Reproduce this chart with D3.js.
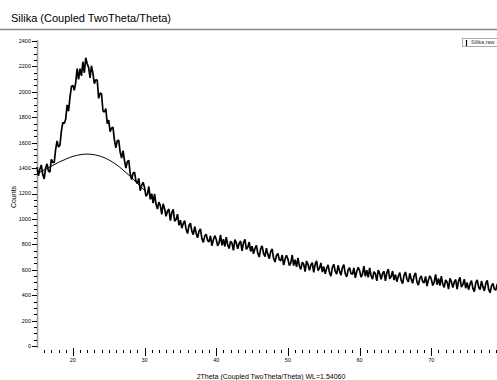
<!DOCTYPE html>
<html>
<head>
<meta charset="utf-8">
<script src="https://cdn.jsdelivr.net/npm/d3@7"></script>
<style>
  html, body { margin: 0; padding: 0; background: #fff; }
  svg { display: block; font-family: "Liberation Sans", Arial, sans-serif; }
</style>
</head>
<body>
<div id="chart"></div>
<script>
// raw scan: start angle, step, counts (one value per step)
const scanStart = 15;
const scanStep = 0.2;
const counts = [
  1408,1340,1392,1425,1349,1315,1401,1433,1376,1368,
  1468,1446,1442,1548,1614,1566,1580,1690,1760,1750,
  1784,1897,1847,1957,2042,2050,2012,2073,2182,2097,
  2183,2125,2237,2150,2268,2221,2192,2110,2204,2147,
  2064,2095,2093,1949,1990,1985,1851,1841,1868,1749,
  1778,1686,1714,1722,1620,1560,1616,1618,1526,1478,
  1538,1460,1400,1450,1460,1356,1310,1360,1368,1298,
  1278,1319,1222,1264,1288,1247,1179,1195,1255,1154,
  1198,1125,1196,1117,1078,1132,1106,1035,1119,1081,
  1021,1063,1077,986,1050,1075,983,996,1037,951,
  990,927,964,986,918,885,948,966,904,877,
  940,888,851,904,922,845,815,865,880,830,
  820,867,789,836,868,840,788,811,874,792,
  840,783,856,794,767,825,809,753,837,811,
  765,808,826,749,812,840,761,777,818,744,
  785,726,767,793,729,700,766,787,728,704,
  770,721,687,743,764,690,661,712,728,679,
  670,716,637,683,714,685,632,654,716,633,
  680,622,694,631,603,660,643,586,669,642,
  595,638,656,579,642,670,593,611,654,582,
  625,568,611,639,577,550,619,643,587,566,
  635,589,558,617,641,570,544,598,617,571,
  565,614,537,586,619,593,542,566,629,548,
  597,540,614,553,526,585,569,513,597,571,
  525,569,588,512,576,605,528,547,590,519,
  562,506,549,578,516,490,558,582,525,504,
  572,526,494,553,576,505,479,532,551,505,
  498,547,471,520,553,527,476,500,563,482,
  531,475,549,487,461,520,504,448,532,506,
  460,504,523,447,511,540,464,483,526,455,
  499,443,487,515,454,428,497,520,464,443,
  511,465,434,492,516,445,419,473,492,446,
  440,489,413,462,496,470
];

// smooth background hump under the amorphous peak
const bgTheta  = [15, 16, 17, 18, 19, 20, 21, 22, 23, 24, 25, 26, 27, 28, 29, 30];
const bgCounts = [1355, 1385, 1415, 1445, 1470, 1492, 1505, 1510, 1505, 1490, 1465, 1430, 1385, 1335, 1280, 1225];

const xTicks = [20, 30, 40, 50, 60, 70];
const yTicks = [0, 200, 400, 600, 800, 1000, 1200, 1400, 1600, 1800, 2000, 2200, 2400];

const title = 'Silika (Coupled TwoTheta/Theta)';
const xLabel = '2Theta (Coupled TwoTheta/Theta) WL=1.54060';
const yLabel = 'Counts';
const legendName = 'Silika.raw';

const width = 497, height = 380;

const svg = d3.select('#chart').append('svg')
  .attr('width', width)
  .attr('height', height);

const x = d3.scaleLinear().domain([15, 80]).range([37, 503]);
const y = d3.scaleLinear().domain([0, 2400]).range([346, 41]);

// title + separator
svg.append('text')
  .attr('x', 11).attr('y', 22)
  .attr('font-size', 11)
  .attr('fill', '#000')
  .text(title);

svg.append('line')
  .attr('x1', 0).attr('x2', width)
  .attr('y1', 29.5).attr('y2', 29.5)
  .attr('stroke', '#8a8a8a')
  .attr('stroke-width', 1.5);

// y axis: gray spine, black ticks
const yMinor = d3.range(0, 2401, 50).filter(v => v % 200 !== 0);
const yAxis = svg.append('g');
yAxis.append('line')
  .attr('x1', 37.5).attr('x2', 37.5)
  .attr('y1', y(2400) - 1).attr('y2', y(0) + 2)
  .attr('stroke', '#999').attr('stroke-width', 1.5);
yAxis.selectAll('.ymaj').data(yTicks).join('line')
  .attr('x1', 32).attr('x2', 37)
  .attr('y1', d => Math.round(y(d)) + 0.5).attr('y2', d => Math.round(y(d)) + 0.5)
  .attr('stroke', '#000');
yAxis.selectAll('.ymin').data(yMinor).join('line')
  .attr('x1', 34).attr('x2', 37)
  .attr('y1', d => Math.round(y(d)) + 0.5).attr('y2', d => Math.round(y(d)) + 0.5)
  .attr('stroke', '#000');
yAxis.selectAll('text').data(yTicks).join('text')
  .attr('x', 31).attr('y', d => y(d))
  .attr('dy', '0.35em')
  .attr('text-anchor', 'end')
  .attr('font-size', 5.5)
  .text(d => d);

svg.append('text')
  .attr('transform', 'translate(16,197) rotate(-90)')
  .attr('text-anchor', 'middle')
  .attr('font-size', 7)
  .text(yLabel);

// x axis: ticks only, no spine
const xMinor = d3.range(16, 80).filter(v => v % 10 !== 0);
const xAxis = svg.append('g');
xAxis.selectAll('.xmin').data(xMinor).join('line')
  .attr('x1', d => Math.round(x(d)) + 0.5).attr('x2', d => Math.round(x(d)) + 0.5)
  .attr('y1', 350).attr('y2', 353)
  .attr('stroke', '#000');
xAxis.selectAll('.xmaj').data(xTicks).join('line')
  .attr('x1', d => Math.round(x(d)) + 0.5).attr('x2', d => Math.round(x(d)) + 0.5)
  .attr('y1', 348).attr('y2', 356)
  .attr('stroke', '#000');
xAxis.selectAll('text').data(xTicks).join('text')
  .attr('x', d => x(d)).attr('y', 360)
  .attr('dy', '0.35em')
  .attr('text-anchor', 'middle')
  .attr('font-size', 5.5)
  .text(d => d);

svg.append('text')
  .attr('x', 271).attr('y', 379)
  .attr('text-anchor', 'middle')
  .attr('font-size', 7)
  .text(xLabel);

// measured pattern
const line = d3.line()
  .x((d, i) => x(scanStart + i * scanStep))
  .y(d => y(d));

svg.append('path')
  .datum(counts)
  .attr('fill', 'none')
  .attr('stroke', '#000')
  .attr('stroke-width', 1.7)
  .attr('stroke-linejoin', 'bevel')
  .attr('d', line);

// background curve
const bgLine = d3.line()
  .curve(d3.curveMonotoneX)
  .x((d, i) => x(bgTheta[i]))
  .y(d => y(d));

svg.append('path')
  .datum(bgCounts)
  .attr('fill', 'none')
  .attr('stroke', '#000')
  .attr('stroke-width', 1)
  .attr('d', bgLine);

// legend (cut off by the right edge, as in the export)
const lg = svg.append('g');
lg.append('rect')
  .attr('x', 462.5).attr('y', 38.5)
  .attr('width', 60).attr('height', 8)
  .attr('fill', '#fff')
  .attr('stroke', '#aaa').attr('stroke-width', 1);
lg.append('line')
  .attr('x1', 466.5).attr('x2', 466.5)
  .attr('y1', 40).attr('y2', 46)
  .attr('stroke', '#000').attr('stroke-width', 1.2);
lg.append('text')
  .attr('x', 471).attr('y', 42.5)
  .attr('dy', '0.35em')
  .attr('font-size', 5.5)
  .attr('fill', '#333')
  .text(legendName);
</script>
</body>
</html>
